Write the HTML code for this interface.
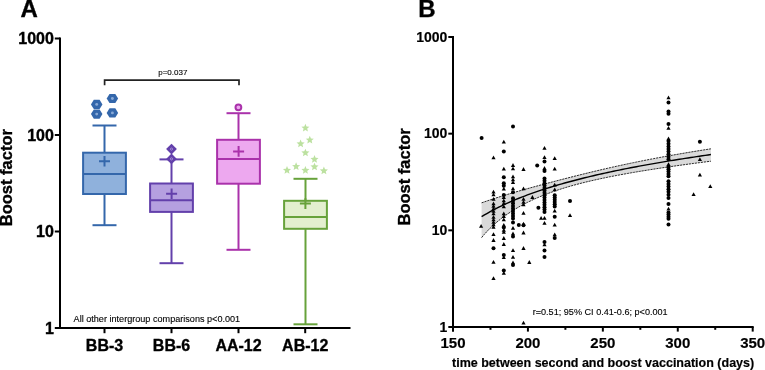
<!DOCTYPE html>
<html><head><meta charset="utf-8"><style>
html,body{margin:0;padding:0;background:#fff;width:765px;height:370px;overflow:hidden}
svg{display:block;will-change:transform}
text{font-family:"Liberation Sans",sans-serif;fill:#000}
text[font-weight=bold]{stroke:#000;stroke-width:0.35px}
text[font-size="12.5"],text[font-size="14"],text[font-size="15"]{stroke-width:0.18px}
text[font-size="8"],text[font-size="9.1"]{stroke:#000;stroke-width:0.12px}
</style></head><body>
<svg width="765" height="370" viewBox="0 0 765 370">
<g stroke="#000" stroke-width="2" fill="none">
<line x1="60" y1="37.5" x2="60" y2="329.0"/>
<line x1="59" y1="328.0" x2="350.5" y2="328.0"/>
<line x1="54.8" y1="328.00" x2="60" y2="328.00"/>
<line x1="54.8" y1="231.50" x2="60" y2="231.50"/>
<line x1="54.8" y1="135.00" x2="60" y2="135.00"/>
<line x1="54.8" y1="38.50" x2="60" y2="38.50"/>
<line x1="104.5" y1="328.0" x2="104.5" y2="333.2"/>
<line x1="171.5" y1="328.0" x2="171.5" y2="333.2"/>
<line x1="238.5" y1="328.0" x2="238.5" y2="333.2"/>
<line x1="305.2" y1="328.0" x2="305.2" y2="333.2"/>
</g>
<line x1="104.5" y1="125.5" x2="104.5" y2="152.7" stroke="#3467ab" stroke-width="2"/>
<line x1="104.5" y1="194.0" x2="104.5" y2="225.2" stroke="#3467ab" stroke-width="2"/>
<line x1="92.5" y1="125.5" x2="116.5" y2="125.5" stroke="#3467ab" stroke-width="2"/>
<line x1="92.5" y1="225.2" x2="116.5" y2="225.2" stroke="#3467ab" stroke-width="2"/>
<rect x="83.1" y="152.7" width="42.8" height="41.30000000000001" fill="#8fb1dc" stroke="#3467ab" stroke-width="2"/>
<line x1="83.1" y1="174.1" x2="125.9" y2="174.1" stroke="#3467ab" stroke-width="2"/>
<path d="M99.0 161.2H110.0M104.5 155.89999999999998V166.5" stroke="#3467ab" stroke-width="2" fill="none"/>
<polygon points="90.95,104.40 93.80,99.80 99.60,99.80 102.45,104.40 99.60,109.00 93.80,109.00" fill="#3467ab"/>
<circle cx="96.7" cy="104.4" r="1.45" fill="#88a9d6"/>
<polygon points="90.95,114.10 93.80,109.50 99.60,109.50 102.45,114.10 99.60,118.70 93.80,118.70" fill="#3467ab"/>
<circle cx="96.7" cy="114.1" r="1.45" fill="#88a9d6"/>
<polygon points="106.65,98.50 109.50,93.90 115.30,93.90 118.15,98.50 115.30,103.10 109.50,103.10" fill="#3467ab"/>
<circle cx="112.4" cy="98.5" r="1.45" fill="#88a9d6"/>
<polygon points="106.65,112.90 109.50,108.30 115.30,108.30 118.15,112.90 115.30,117.50 109.50,117.50" fill="#3467ab"/>
<circle cx="112.4" cy="112.9" r="1.45" fill="#88a9d6"/>
<line x1="171.5" y1="159.4" x2="171.5" y2="183.5" stroke="#6340ab" stroke-width="2"/>
<line x1="171.5" y1="211.9" x2="171.5" y2="263.2" stroke="#6340ab" stroke-width="2"/>
<line x1="159.5" y1="159.4" x2="183.5" y2="159.4" stroke="#6340ab" stroke-width="2"/>
<line x1="159.5" y1="263.2" x2="183.5" y2="263.2" stroke="#6340ab" stroke-width="2"/>
<rect x="150.1" y="183.5" width="42.8" height="28.400000000000006" fill="#b5a0e0" stroke="#6340ab" stroke-width="2"/>
<line x1="150.1" y1="200.3" x2="192.9" y2="200.3" stroke="#6340ab" stroke-width="2"/>
<path d="M166.1 193.8H177.1M171.6 188.5V199.10000000000002" stroke="#6340ab" stroke-width="2" fill="none"/>
<polygon points="166.1,149.1 171.5,143.7 176.9,149.1 171.5,154.5" fill="#6340ab"/>
<circle cx="171.5" cy="149.1" r="1.1" fill="none" stroke="#b9a3e0" stroke-width="0.7"/>
<polygon points="166.1,158.9 171.5,153.5 176.9,158.9 171.5,164.3" fill="#6340ab"/>
<circle cx="171.5" cy="158.9" r="1.1" fill="none" stroke="#b9a3e0" stroke-width="0.7"/>
<line x1="238.5" y1="113.2" x2="238.5" y2="139.8" stroke="#aa32ab" stroke-width="2"/>
<line x1="238.5" y1="183.7" x2="238.5" y2="249.8" stroke="#aa32ab" stroke-width="2"/>
<line x1="226.5" y1="113.2" x2="250.5" y2="113.2" stroke="#aa32ab" stroke-width="2"/>
<line x1="226.5" y1="249.8" x2="250.5" y2="249.8" stroke="#aa32ab" stroke-width="2"/>
<rect x="217.1" y="139.8" width="42.8" height="43.89999999999998" fill="#eda8ef" stroke="#aa32ab" stroke-width="2"/>
<line x1="217.1" y1="159.1" x2="259.9" y2="159.1" stroke="#aa32ab" stroke-width="2"/>
<path d="M233.1 151.4H244.1M238.6 146.1V156.70000000000002" stroke="#aa32ab" stroke-width="2" fill="none"/>
<circle cx="238.4" cy="107.3" r="2.9" fill="#eda8ef" stroke="#aa32ab" stroke-width="2"/>
<line x1="305.5" y1="178.8" x2="305.5" y2="200.8" stroke="#67a23b" stroke-width="2"/>
<line x1="305.5" y1="228.8" x2="305.5" y2="324.3" stroke="#67a23b" stroke-width="2"/>
<line x1="293.5" y1="178.8" x2="317.5" y2="178.8" stroke="#67a23b" stroke-width="2"/>
<line x1="293.5" y1="324.3" x2="317.5" y2="324.3" stroke="#67a23b" stroke-width="2"/>
<rect x="284.1" y="200.8" width="42.8" height="28.0" fill="#e3efcf" stroke="#67a23b" stroke-width="2"/>
<line x1="284.1" y1="217.0" x2="326.9" y2="217.0" stroke="#67a23b" stroke-width="2"/>
<path d="M299.9 203.6H310.9M305.4 198.29999999999998V208.9" stroke="#67a23b" stroke-width="2" fill="none"/>
<polygon points="305.40,123.75 306.52,126.45 309.44,126.69 307.22,128.59 307.90,131.44 305.40,129.91 302.90,131.44 303.58,128.59 301.36,126.69 304.28,126.45" fill="#bce1a0"/>
<polygon points="309.80,135.75 310.92,138.45 313.84,138.69 311.62,140.59 312.30,143.44 309.80,141.91 307.30,143.44 307.98,140.59 305.76,138.69 308.68,138.45" fill="#bce1a0"/>
<polygon points="300.60,139.55 301.72,142.25 304.64,142.49 302.42,144.39 303.10,147.24 300.60,145.71 298.10,147.24 298.78,144.39 296.56,142.49 299.48,142.25" fill="#bce1a0"/>
<polygon points="305.40,148.65 306.52,151.35 309.44,151.59 307.22,153.49 307.90,156.34 305.40,154.81 302.90,156.34 303.58,153.49 301.36,151.59 304.28,151.35" fill="#bce1a0"/>
<polygon points="314.50,155.05 315.62,157.75 318.54,157.99 316.32,159.89 317.00,162.74 314.50,161.21 312.00,162.74 312.68,159.89 310.46,157.99 313.38,157.75" fill="#bce1a0"/>
<polygon points="296.10,162.25 297.22,164.95 300.14,165.19 297.92,167.09 298.60,169.94 296.10,168.41 293.60,169.94 294.28,167.09 292.06,165.19 294.98,164.95" fill="#bce1a0"/>
<polygon points="314.50,162.65 315.62,165.35 318.54,165.59 316.32,167.49 317.00,170.34 314.50,168.81 312.00,170.34 312.68,167.49 310.46,165.59 313.38,165.35" fill="#bce1a0"/>
<polygon points="287.00,166.05 288.12,168.75 291.04,168.99 288.82,170.89 289.50,173.74 287.00,172.21 284.50,173.74 285.18,170.89 282.96,168.99 285.88,168.75" fill="#bce1a0"/>
<polygon points="305.40,166.05 306.52,168.75 309.44,168.99 307.22,170.89 307.90,173.74 305.40,172.21 302.90,173.74 303.58,170.89 301.36,168.99 304.28,168.75" fill="#bce1a0"/>
<polygon points="323.90,166.55 325.02,169.25 327.94,169.49 325.72,171.39 326.40,174.24 323.90,172.71 321.40,174.24 322.08,171.39 319.86,169.49 322.78,169.25" fill="#bce1a0"/>
<path d="M104.6 85.3V80.1H239V85.3" stroke="#222" stroke-width="1.7" fill="none"/>
<polygon points="481.60,202.82 484.47,201.82 487.33,200.84 490.20,199.88 493.06,198.93 495.93,198.01 498.80,197.10 501.66,196.20 504.53,195.32 507.40,194.45 510.26,193.59 513.13,192.74 516.00,191.90 518.86,191.08 521.73,190.26 524.59,189.45 527.46,188.65 530.33,187.86 533.19,187.07 536.06,186.29 538.92,185.51 541.79,184.74 544.66,183.98 547.52,183.21 550.39,182.46 553.26,181.71 556.12,180.96 558.99,180.21 561.86,179.47 564.72,178.73 567.59,178.00 570.45,177.27 573.32,176.54 576.19,175.82 579.05,175.10 581.92,174.39 584.78,173.69 587.65,172.98 590.52,172.29 593.38,171.60 596.25,170.91 599.12,170.24 601.98,169.57 604.85,168.90 607.72,168.24 610.58,167.59 613.45,166.95 616.31,166.31 619.18,165.68 622.05,165.06 624.91,164.44 627.78,163.83 630.64,163.23 633.51,162.63 636.38,162.04 639.24,161.46 642.11,160.88 644.98,160.31 647.84,159.75 650.71,159.19 653.58,158.64 656.44,158.10 659.31,157.56 662.17,157.03 665.04,156.50 667.91,155.98 670.77,155.47 673.64,154.96 676.50,154.46 679.37,153.96 682.24,153.47 685.10,152.98 687.97,152.50 690.84,152.02 693.70,151.55 696.57,151.08 699.43,150.62 702.30,150.17 705.17,149.71 708.03,149.26 710.90,148.82 710.90,161.21 708.03,161.57 705.17,161.93 702.30,162.30 699.43,162.67 696.57,163.04 693.70,163.42 690.84,163.80 687.97,164.18 685.10,164.57 682.24,164.96 679.37,165.36 676.50,165.76 673.64,166.17 670.77,166.58 667.91,166.99 665.04,167.42 662.17,167.84 659.31,168.27 656.44,168.71 653.58,169.15 650.71,169.60 647.84,170.05 644.98,170.51 642.11,170.98 639.24,171.45 636.38,171.93 633.51,172.42 630.64,172.92 627.78,173.42 624.91,173.94 622.05,174.46 619.18,174.99 616.31,175.53 613.45,176.08 610.58,176.64 607.72,177.22 604.85,177.81 601.98,178.40 599.12,179.02 596.25,179.65 593.38,180.29 590.52,180.95 587.65,181.63 584.78,182.32 581.92,183.04 579.05,183.78 576.19,184.53 573.32,185.32 570.45,186.12 567.59,186.96 564.72,187.82 561.86,188.71 558.99,189.63 556.12,190.59 553.26,191.58 550.39,192.61 547.52,193.67 544.66,194.78 541.79,195.92 538.92,197.12 536.06,198.36 533.19,199.64 530.33,200.99 527.46,202.38 524.59,203.84 521.73,205.36 518.86,206.95 516.00,208.61 513.13,210.35 510.26,212.18 507.40,214.10 504.53,216.11 501.66,218.25 498.80,220.50 495.93,222.89 493.06,225.44 490.20,228.15 487.33,231.07 484.47,234.21 481.60,237.62" fill="#dadada"/>
<polyline points="481.60,202.82 484.47,201.82 487.33,200.84 490.20,199.88 493.06,198.93 495.93,198.01 498.80,197.10 501.66,196.20 504.53,195.32 507.40,194.45 510.26,193.59 513.13,192.74 516.00,191.90 518.86,191.08 521.73,190.26 524.59,189.45 527.46,188.65 530.33,187.86 533.19,187.07 536.06,186.29 538.92,185.51 541.79,184.74 544.66,183.98 547.52,183.21 550.39,182.46 553.26,181.71 556.12,180.96 558.99,180.21 561.86,179.47 564.72,178.73 567.59,178.00 570.45,177.27 573.32,176.54 576.19,175.82 579.05,175.10 581.92,174.39 584.78,173.69 587.65,172.98 590.52,172.29 593.38,171.60 596.25,170.91 599.12,170.24 601.98,169.57 604.85,168.90 607.72,168.24 610.58,167.59 613.45,166.95 616.31,166.31 619.18,165.68 622.05,165.06 624.91,164.44 627.78,163.83 630.64,163.23 633.51,162.63 636.38,162.04 639.24,161.46 642.11,160.88 644.98,160.31 647.84,159.75 650.71,159.19 653.58,158.64 656.44,158.10 659.31,157.56 662.17,157.03 665.04,156.50 667.91,155.98 670.77,155.47 673.64,154.96 676.50,154.46 679.37,153.96 682.24,153.47 685.10,152.98 687.97,152.50 690.84,152.02 693.70,151.55 696.57,151.08 699.43,150.62 702.30,150.17 705.17,149.71 708.03,149.26 710.90,148.82" fill="none" stroke="#2a2a2a" stroke-width="1" stroke-dasharray="2.2,0.8"/>
<polyline points="481.60,237.62 484.47,234.21 487.33,231.07 490.20,228.15 493.06,225.44 495.93,222.89 498.80,220.50 501.66,218.25 504.53,216.11 507.40,214.10 510.26,212.18 513.13,210.35 516.00,208.61 518.86,206.95 521.73,205.36 524.59,203.84 527.46,202.38 530.33,200.99 533.19,199.64 536.06,198.36 538.92,197.12 541.79,195.92 544.66,194.78 547.52,193.67 550.39,192.61 553.26,191.58 556.12,190.59 558.99,189.63 561.86,188.71 564.72,187.82 567.59,186.96 570.45,186.12 573.32,185.32 576.19,184.53 579.05,183.78 581.92,183.04 584.78,182.32 587.65,181.63 590.52,180.95 593.38,180.29 596.25,179.65 599.12,179.02 601.98,178.40 604.85,177.81 607.72,177.22 610.58,176.64 613.45,176.08 616.31,175.53 619.18,174.99 622.05,174.46 624.91,173.94 627.78,173.42 630.64,172.92 633.51,172.42 636.38,171.93 639.24,171.45 642.11,170.98 644.98,170.51 647.84,170.05 650.71,169.60 653.58,169.15 656.44,168.71 659.31,168.27 662.17,167.84 665.04,167.42 667.91,166.99 670.77,166.58 673.64,166.17 676.50,165.76 679.37,165.36 682.24,164.96 685.10,164.57 687.97,164.18 690.84,163.80 693.70,163.42 696.57,163.04 699.43,162.67 702.30,162.30 705.17,161.93 708.03,161.57 710.90,161.21" fill="none" stroke="#2a2a2a" stroke-width="1" stroke-dasharray="2.2,0.8"/>
<polyline points="481.60,216.71 484.47,214.96 487.33,213.29 490.20,211.68 493.06,210.13 495.93,208.63 498.80,207.19 501.66,205.79 504.53,204.44 507.40,203.13 510.26,201.86 513.13,200.63 516.00,199.43 518.86,198.27 521.73,197.13 524.59,196.03 527.46,194.96 530.33,193.91 533.19,192.89 536.06,191.89 538.92,190.91 541.79,189.96 544.66,189.03 547.52,188.12 550.39,187.23 553.26,186.35 556.12,185.50 558.99,184.66 561.86,183.84 564.72,183.03 567.59,182.24 570.45,181.46 573.32,180.70 576.19,179.95 579.05,179.22 581.92,178.49 584.78,177.78 587.65,177.08 590.52,176.40 593.38,175.72 596.25,175.05 599.12,174.40 601.98,173.75 604.85,173.12 607.72,172.49 610.58,171.88 613.45,171.27 616.31,170.67 619.18,170.08 622.05,169.49 624.91,168.92 627.78,168.35 630.64,167.79 633.51,167.24 636.38,166.70 639.24,166.16 642.11,165.63 644.98,165.10 647.84,164.59 650.71,164.07 653.58,163.57 656.44,163.07 659.31,162.58 662.17,162.09 665.04,161.61 667.91,161.13 670.77,160.66 673.64,160.19 676.50,159.73 679.37,159.28 682.24,158.82 685.10,158.38 687.97,157.94 690.84,157.50 693.70,157.07 696.57,156.64 699.43,156.21 702.30,155.80 705.17,155.38 708.03,154.97 710.90,154.56" fill="none" stroke="#000" stroke-width="1.4"/>
<circle cx="481.60" cy="138.00" r="2.0"/>
<polygon points="479.00,227.80 483.20,227.80 481.10,224.00"/>
<polygon points="491.40,159.30 495.60,159.30 493.50,155.50"/>
<polygon points="491.40,193.50 495.60,193.50 493.50,189.70"/>
<polygon points="491.40,196.20 495.60,196.20 493.50,192.40"/>
<polygon points="491.40,200.70 495.60,200.70 493.50,196.90"/>
<polygon points="491.40,205.20 495.60,205.20 493.50,201.40"/>
<polygon points="491.40,207.70 495.60,207.70 493.50,203.90"/>
<polygon points="491.40,210.20 495.60,210.20 493.50,206.40"/>
<polygon points="491.40,212.70 495.60,212.70 493.50,208.90"/>
<polygon points="491.40,215.20 495.60,215.20 493.50,211.40"/>
<polygon points="491.40,218.70 495.60,218.70 493.50,214.90"/>
<polygon points="491.40,221.20 495.60,221.20 493.50,217.40"/>
<polygon points="491.40,223.70 495.60,223.70 493.50,219.90"/>
<polygon points="491.40,226.20 495.60,226.20 493.50,222.40"/>
<polygon points="491.40,228.70 495.60,228.70 493.50,224.90"/>
<polygon points="491.40,236.00 495.60,236.00 493.50,232.20"/>
<polygon points="491.40,241.90 495.60,241.90 493.50,238.10"/>
<polygon points="491.40,263.80 495.60,263.80 493.50,260.00"/>
<polygon points="491.40,280.00 495.60,280.00 493.50,276.20"/>
<circle cx="493.50" cy="248.20" r="2.0"/>
<polygon points="501.70,143.60 505.90,143.60 503.80,139.80"/>
<polygon points="501.70,170.60 505.90,170.60 503.80,166.80"/>
<polygon points="501.70,190.50 505.90,190.50 503.80,186.70"/>
<polygon points="501.70,198.90 505.90,198.90 503.80,195.10"/>
<polygon points="501.70,202.20 505.90,202.20 503.80,198.40"/>
<polygon points="501.70,204.90 505.90,204.90 503.80,201.10"/>
<polygon points="501.70,208.20 505.90,208.20 503.80,204.40"/>
<polygon points="501.70,215.20 505.90,215.20 503.80,211.40"/>
<polygon points="501.70,217.90 505.90,217.90 503.80,214.10"/>
<polygon points="501.70,221.20 505.90,221.20 503.80,217.40"/>
<polygon points="501.70,226.70 505.90,226.70 503.80,222.90"/>
<polygon points="501.70,231.70 505.90,231.70 503.80,227.90"/>
<polygon points="501.70,233.70 505.90,233.70 503.80,229.90"/>
<polygon points="501.70,239.90 505.90,239.90 503.80,236.10"/>
<polygon points="501.70,245.90 505.90,245.90 503.80,242.10"/>
<polygon points="501.70,259.10 505.90,259.10 503.80,255.30"/>
<polygon points="501.70,274.70 505.90,274.70 503.80,270.90"/>
<circle cx="503.80" cy="151.50" r="2.0"/>
<circle cx="503.80" cy="177.30" r="2.0"/>
<circle cx="503.80" cy="183.20" r="2.0"/>
<circle cx="503.80" cy="185.70" r="2.0"/>
<circle cx="503.80" cy="194.90" r="2.0"/>
<circle cx="503.80" cy="227.50" r="2.0"/>
<circle cx="503.80" cy="255.00" r="2.0"/>
<circle cx="503.80" cy="270.50" r="2.0"/>
<circle cx="513.00" cy="126.40" r="2.0"/>
<polygon points="510.90,166.90 515.10,166.90 513.00,163.10"/>
<polygon points="510.90,170.30 515.10,170.30 513.00,166.50"/>
<polygon points="510.90,178.20 515.10,178.20 513.00,174.40"/>
<polygon points="510.90,181.20 515.10,181.20 513.00,177.40"/>
<polygon points="510.90,184.00 515.10,184.00 513.00,180.20"/>
<polygon points="510.90,190.20 515.10,190.20 513.00,186.40"/>
<circle cx="513.00" cy="192.20" r="2.0"/>
<circle cx="513.00" cy="198.30" r="2.0"/>
<circle cx="513.00" cy="200.83" r="2.0"/>
<circle cx="513.00" cy="203.35" r="2.0"/>
<circle cx="513.00" cy="205.88" r="2.0"/>
<circle cx="513.00" cy="208.40" r="2.0"/>
<circle cx="513.00" cy="210.93" r="2.0"/>
<circle cx="513.00" cy="213.45" r="2.0"/>
<circle cx="513.00" cy="215.97" r="2.0"/>
<circle cx="513.00" cy="218.50" r="2.0"/>
<circle cx="513.00" cy="222.60" r="2.0"/>
<polygon points="510.90,229.70 515.10,229.70 513.00,225.90"/>
<polygon points="510.90,235.20 515.10,235.20 513.00,231.40"/>
<polygon points="510.90,252.00 515.10,252.00 513.00,248.20"/>
<polygon points="510.90,258.70 515.10,258.70 513.00,254.90"/>
<polygon points="510.90,264.20 515.10,264.20 513.00,260.40"/>
<circle cx="513.00" cy="236.50" r="2.0"/>
<circle cx="513.00" cy="265.00" r="2.0"/>
<polygon points="521.40,170.90 525.60,170.90 523.50,167.10"/>
<polygon points="521.40,190.30 525.60,190.30 523.50,186.50"/>
<polygon points="521.40,200.70 525.60,200.70 523.50,196.90"/>
<polygon points="521.40,203.70 525.60,203.70 523.50,199.90"/>
<polygon points="521.40,206.30 525.60,206.30 523.50,202.50"/>
<polygon points="521.40,214.80 525.60,214.80 523.50,211.00"/>
<polygon points="521.40,225.60 525.60,225.60 523.50,221.80"/>
<polygon points="521.40,234.40 525.60,234.40 523.50,230.60"/>
<polygon points="521.40,249.90 525.60,249.90 523.50,246.10"/>
<polygon points="521.40,324.50 525.60,324.50 523.50,320.70"/>
<circle cx="523.50" cy="225.20" r="2.0"/>
<circle cx="518.80" cy="225.00" r="2.0"/>
<polygon points="527.20,263.90 531.40,263.90 529.30,260.10"/>
<polygon points="530.30,198.90 534.50,198.90 532.40,195.10"/>
<circle cx="537.20" cy="165.40" r="2.0"/>
<circle cx="538.40" cy="207.80" r="2.0"/>
<polygon points="542.40,149.70 546.60,149.70 544.50,145.90"/>
<polygon points="542.40,159.10 546.60,159.10 544.50,155.30"/>
<polygon points="542.40,169.90 546.60,169.90 544.50,166.10"/>
<polygon points="542.40,219.70 546.60,219.70 544.50,215.90"/>
<polygon points="542.40,224.80 546.60,224.80 544.50,221.00"/>
<polygon points="542.40,246.20 546.60,246.20 544.50,242.40"/>
<circle cx="544.50" cy="161.50" r="2.0"/>
<circle cx="544.50" cy="171.00" r="2.0"/>
<circle cx="544.50" cy="178.40" r="2.0"/>
<circle cx="544.50" cy="180.80" r="2.0"/>
<circle cx="544.50" cy="183.20" r="2.0"/>
<circle cx="544.50" cy="185.60" r="2.0"/>
<circle cx="544.50" cy="188.00" r="2.0"/>
<circle cx="544.50" cy="190.40" r="2.0"/>
<circle cx="544.50" cy="192.80" r="2.0"/>
<circle cx="544.50" cy="195.20" r="2.0"/>
<circle cx="544.50" cy="197.60" r="2.0"/>
<circle cx="544.50" cy="200.00" r="2.0"/>
<circle cx="544.50" cy="202.40" r="2.0"/>
<circle cx="544.50" cy="204.80" r="2.0"/>
<circle cx="544.50" cy="207.20" r="2.0"/>
<circle cx="544.50" cy="209.60" r="2.0"/>
<circle cx="544.50" cy="212.00" r="2.0"/>
<polygon points="539.00,219.70 543.20,219.70 541.10,215.90"/>
<circle cx="544.50" cy="242.00" r="2.0"/>
<circle cx="544.50" cy="250.40" r="2.0"/>
<circle cx="544.50" cy="256.90" r="2.0"/>
<polygon points="552.60,160.00 556.80,160.00 554.70,156.20"/>
<polygon points="552.60,170.60 556.80,170.60 554.70,166.80"/>
<polygon points="552.60,186.60 556.80,186.60 554.70,182.80"/>
<polygon points="552.60,191.30 556.80,191.30 554.70,187.50"/>
<polygon points="552.60,212.50 556.80,212.50 554.70,208.70"/>
<polygon points="552.60,226.50 556.80,226.50 554.70,222.70"/>
<polygon points="552.60,236.20 556.80,236.20 554.70,232.40"/>
<circle cx="554.70" cy="195.20" r="2.0"/>
<circle cx="554.70" cy="197.44" r="2.0"/>
<circle cx="554.70" cy="199.68" r="2.0"/>
<circle cx="554.70" cy="201.92" r="2.0"/>
<circle cx="554.70" cy="204.16" r="2.0"/>
<circle cx="554.70" cy="206.40" r="2.0"/>
<circle cx="554.70" cy="216.70" r="2.0"/>
<circle cx="554.70" cy="238.00" r="2.0"/>
<circle cx="570.00" cy="200.90" r="2.0"/>
<polygon points="567.90,217.00 572.10,217.00 570.00,213.20"/>
<polygon points="666.40,99.20 670.60,99.20 668.50,95.40"/>
<polygon points="666.40,129.70 670.60,129.70 668.50,125.90"/>
<polygon points="666.40,140.30 670.60,140.30 668.50,136.50"/>
<polygon points="666.40,210.50 670.60,210.50 668.50,206.70"/>
<circle cx="668.50" cy="102.50" r="2.0"/>
<circle cx="668.50" cy="111.60" r="2.0"/>
<circle cx="668.50" cy="113.70" r="2.0"/>
<circle cx="668.50" cy="123.90" r="2.0"/>
<circle cx="668.50" cy="141.00" r="2.0"/>
<circle cx="668.50" cy="143.75" r="2.0"/>
<circle cx="668.50" cy="146.50" r="2.0"/>
<circle cx="668.50" cy="149.00" r="2.0"/>
<circle cx="668.50" cy="151.57" r="2.0"/>
<circle cx="668.50" cy="154.15" r="2.0"/>
<circle cx="668.50" cy="156.73" r="2.0"/>
<circle cx="668.50" cy="159.30" r="2.0"/>
<polygon points="666.40,166.10 670.60,166.10 668.50,162.30"/>
<circle cx="668.50" cy="167.00" r="2.0"/>
<circle cx="668.50" cy="169.30" r="2.0"/>
<circle cx="668.50" cy="171.60" r="2.0"/>
<circle cx="668.50" cy="173.90" r="2.0"/>
<circle cx="668.50" cy="176.20" r="2.0"/>
<circle cx="668.50" cy="181.30" r="2.0"/>
<circle cx="668.50" cy="183.93" r="2.0"/>
<circle cx="668.50" cy="186.55" r="2.0"/>
<circle cx="668.50" cy="189.18" r="2.0"/>
<circle cx="668.50" cy="191.80" r="2.0"/>
<circle cx="668.50" cy="194.80" r="2.0"/>
<circle cx="668.50" cy="198.00" r="2.0"/>
<circle cx="668.50" cy="204.00" r="2.0"/>
<circle cx="668.50" cy="212.40" r="2.0"/>
<circle cx="668.50" cy="214.53" r="2.0"/>
<circle cx="668.50" cy="216.67" r="2.0"/>
<circle cx="668.50" cy="218.80" r="2.0"/>
<circle cx="668.50" cy="224.50" r="2.0"/>
<circle cx="699.90" cy="141.70" r="2.0"/>
<polygon points="697.80,161.10 702.00,161.10 699.90,157.30"/>
<polygon points="697.80,176.60 702.00,176.60 699.90,172.80"/>
<polygon points="708.20,188.00 712.40,188.00 710.30,184.20"/>
<polygon points="691.50,196.10 695.70,196.10 693.60,192.30"/>
<g stroke="#000" stroke-width="2" fill="none">
<line x1="453.0" y1="36" x2="453.0" y2="331.6"/>
<line x1="452.0" y1="327.0" x2="753.7" y2="327.0"/>
<line x1="448.3" y1="327.00" x2="453.0" y2="327.00"/>
<line x1="448.3" y1="230.33" x2="453.0" y2="230.33"/>
<line x1="448.3" y1="133.66" x2="453.0" y2="133.66"/>
<line x1="448.3" y1="36.99" x2="453.0" y2="36.99"/>
<line x1="453.00" y1="327.0" x2="453.00" y2="331.6"/>
<line x1="527.92" y1="327.0" x2="527.92" y2="331.6"/>
<line x1="602.85" y1="327.0" x2="602.85" y2="331.6"/>
<line x1="677.78" y1="327.0" x2="677.78" y2="331.6"/>
<line x1="752.70" y1="327.0" x2="752.70" y2="331.6"/>
<line x1="490.46" y1="327.0" x2="490.46" y2="329.8"/>
<line x1="565.39" y1="327.0" x2="565.39" y2="329.8"/>
<line x1="640.31" y1="327.0" x2="640.31" y2="329.8"/>
<line x1="715.24" y1="327.0" x2="715.24" y2="329.8"/>
</g>
<text x="20.5" y="17.2" font-size="24" font-weight="bold">A</text>
<text x="53.9" y="333.50" font-size="16" font-weight="bold" text-anchor="end">1</text>
<text x="53.9" y="237.00" font-size="16" font-weight="bold" text-anchor="end">10</text>
<text x="53.9" y="140.50" font-size="16" font-weight="bold" text-anchor="end">100</text>
<text x="53.9" y="44.00" font-size="16" font-weight="bold" text-anchor="end">1000</text>
<text x="104.5" y="351" font-size="16" font-weight="bold" text-anchor="middle">BB-3</text>
<text x="171.5" y="351" font-size="16" font-weight="bold" text-anchor="middle">BB-6</text>
<text x="238.5" y="351" font-size="16" font-weight="bold" text-anchor="middle">AA-12</text>
<text x="305.2" y="351" font-size="16" font-weight="bold" text-anchor="middle">AB-12</text>
<text transform="translate(12,177.7) rotate(-90)" font-size="16.5" font-weight="bold" text-anchor="middle">Boost factor</text>
<text x="73.6" y="322.3" font-size="9.1">All other intergroup comparisons p&lt;0.001</text>
<text x="158.2" y="74.6" font-size="8">p=0.037</text>
<text x="418.3" y="17.4" font-size="24" font-weight="bold">B</text>
<text x="447.3" y="331.80" font-size="14" font-weight="bold" text-anchor="end">1</text>
<text x="447.3" y="235.13" font-size="14" font-weight="bold" text-anchor="end">10</text>
<text x="447.3" y="138.46" font-size="14" font-weight="bold" text-anchor="end">100</text>
<text x="447.3" y="41.79" font-size="14" font-weight="bold" text-anchor="end">1000</text>
<text x="453.00" y="348.3" font-size="15" font-weight="bold" text-anchor="middle">150</text>
<text x="527.92" y="348.3" font-size="15" font-weight="bold" text-anchor="middle">200</text>
<text x="602.85" y="348.3" font-size="15" font-weight="bold" text-anchor="middle">250</text>
<text x="677.78" y="348.3" font-size="15" font-weight="bold" text-anchor="middle">300</text>
<text x="752.70" y="348.3" font-size="15" font-weight="bold" text-anchor="middle">350</text>
<text x="452" y="367.3" font-size="12.5" font-weight="bold">time between second and boost vaccination (days)</text>
<text transform="translate(409.7,176.9) rotate(-90)" font-size="16.5" font-weight="bold" text-anchor="middle">Boost factor</text>
<text x="532.7" y="314.8" font-size="9.1">r=0.51; 95% CI 0.41-0.6; p&lt;0.001</text>
</svg>
</body></html>
